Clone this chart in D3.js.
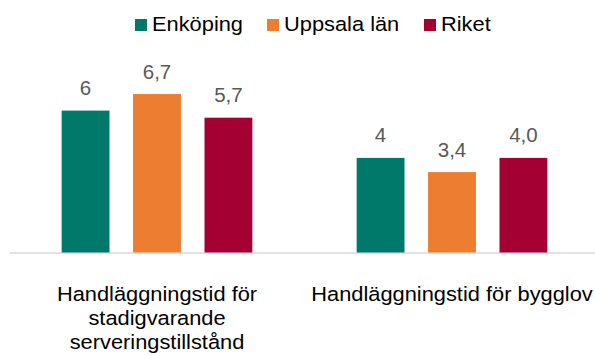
<!DOCTYPE html>
<html>
<head>
<meta charset="utf-8">
<script src="https://cdn.jsdelivr.net/npm/d3@7"></script>
<style>
  html, body { margin: 0; padding: 0; background: #fff; }
  svg { display: block; font-family: "Liberation Sans", Arial, sans-serif; }
</style>
</head>
<body>
<svg id="chart" width="595" height="356"></svg>
<script>
// Categories and series
const categories = [
  "Handläggningstid för stadigvarande serveringstillstånd",
  "Handläggningstid för bygglov"
];
const seriesNames = ["Enköping", "Uppsala län", "Riket"];
const seriesColors = ["#00796B", "#ED7D31", "#A50034"];
const seriesDecimals = [0, 1, 1];
const enkoping = [6, 4];
const uppsalaLan = [6.7, 3.4];
const riket = [5.7, 4.0];
const seriesValues = [enkoping, uppsalaLan, riket];

const W = 595, H = 356;
const baseline = 252.5, plotTop = 63.3;
const textScaleX = 1.12;

const svg = d3.select("#chart");
const sv = d3.formatLocale({ decimal: ",", thousands: " ", grouping: [3], currency: ["", " kr"] });

const x0 = d3.scaleBand().domain(categories).range([9.5, 599.5]).padding(0);
const x1 = d3.scaleBand().domain(seriesNames).range([0, x0.bandwidth()])
  .paddingInner(0.33).paddingOuter(0.73);
const y = d3.scaleLinear().domain([0, 8]).range([baseline, plotTop]);

// Baseline axis
const axis = svg.append("g")
  .attr("transform", `translate(0,${baseline})`)
  .call(d3.axisBottom(x0).tickSize(0).tickSizeOuter(0).tickFormat(""));
axis.select(".domain").attr("stroke", "#d9d9d9").attr("stroke-width", 1.5);
axis.selectAll(".tick").remove();

// Bars
const rows = [];
categories.forEach((c, ci) => {
  seriesNames.forEach((s, si) => {
    rows.push({ cat: c, series: s, si, value: seriesValues[si][ci] });
  });
});

const groups = svg.append("g").selectAll("g")
  .data(categories).join("g")
  .attr("transform", d => `translate(${x0(d)},0)`);

groups.selectAll("rect")
  .data(c => rows.filter(r => r.cat === c))
  .join("rect")
  .attr("x", d => x1(d.series))
  .attr("width", x1.bandwidth())
  .attr("y", d => y(d.value))
  .attr("height", d => y(0) - y(d.value))
  .attr("fill", d => seriesColors[d.si]);

// Value labels
groups.selectAll("text.val")
  .data(c => rows.filter(r => r.cat === c))
  .join("text")
  .attr("class", "val")
  .attr("x", d => x1(d.series) + x1.bandwidth() / 2)
  .attr("y", d => y(d.value) - 15.5)
  .attr("text-anchor", "middle")
  .attr("font-size", 20.5)
  .attr("fill", "#595959")
  .text(d => sv.format(`.${seriesDecimals[d.si]}f`)(d.value));

// Category labels, wrapped to the band width
const lineH = 24;
svg.append("g").selectAll("text.cat")
  .data(categories).join("text")
  .attr("class", "cat")
  .attr("font-size", 19.5)
  .attr("fill", "#000")
  .attr("text-anchor", "middle")
  .attr("transform", d => `translate(${x0(d) + x0.bandwidth() / 2},301) scale(${textScaleX},1)`)
  .each(function (d) {
    const t = d3.select(this);
    const words = d.split(" ");
    const maxW = x0.bandwidth() / textScaleX;
    let lines = [], cur = [];
    const probe = t.append("tspan");
    words.forEach(w => {
      const test = cur.concat([w]).join(" ");
      probe.text(test);
      if (probe.node().getComputedTextLength() > maxW && cur.length) {
        lines.push(cur.join(" "));
        cur = [w];
      } else {
        cur.push(w);
      }
    });
    lines.push(cur.join(" "));
    probe.remove();
    lines.forEach((ln, i) => {
      t.append("tspan").attr("x", 0).attr("y", i * lineH).text(ln);
    });
  });

// Legend
const legendX = [135, 267, 424];
const legend = svg.append("g").selectAll("g")
  .data(seriesNames).join("g")
  .attr("transform", (d, i) => `translate(${legendX[i]},0)`);
legend.append("rect")
  .attr("x", 0).attr("y", 19).attr("width", 12).attr("height", 12)
  .attr("fill", (d, i) => seriesColors[i]);
legend.append("text")
  .attr("transform", `translate(17,31) scale(${textScaleX},1)`)
  .attr("font-size", 19.5)
  .attr("fill", "#000")
  .text(d => d);
</script>
</body>
</html>
